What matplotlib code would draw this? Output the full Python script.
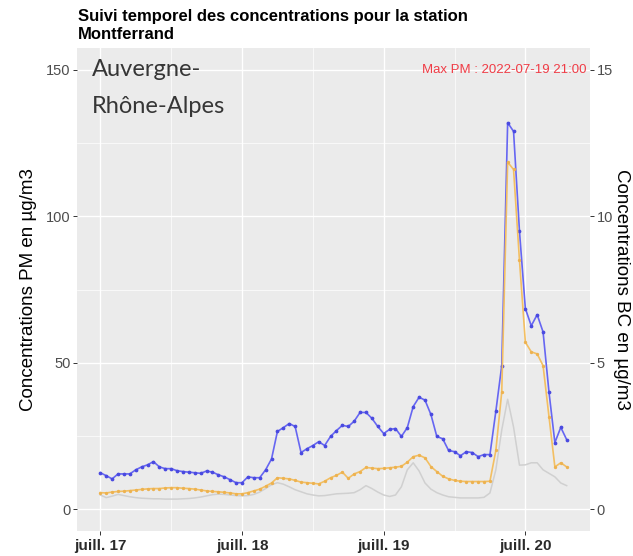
import matplotlib
matplotlib.use("Agg")
import matplotlib.pyplot as plt
import matplotlib.dates as mdates
from matplotlib.ticker import FixedLocator
import pandas as pd

# ---------------- data (hourly, from 2022-07-17 00:00) ----------------
start_time = "2022-07-17 00:00"

pm_blue = [12.4, 11.4, 10.3, 12.0, 12.0, 12.0, 13.4, 14.4, 15.1, 16.2,
           14.4, 13.8, 13.8, 13.1, 12.8, 12.6, 12.4, 12.2, 13.0, 12.6,
           11.7, 11.0, 10.0, 9.0, 9.0, 11.0, 10.7, 10.7, 13.4, 17.1,
           26.5, 27.8, 29.2, 28.2, 19.3, 20.6, 21.7, 23.0, 21.7, 24.8,
           26.8, 28.6, 28.2, 30.0, 33.0, 33.0, 31.0, 28.2, 25.8, 27.2,
           27.5, 24.8, 27.8, 35.0, 38.2, 37.2, 32.3, 24.8, 24.0, 20.0,
           19.6, 18.2, 19.6, 19.3, 17.9, 18.6, 18.6, 33.4, 49.0, 132.0,
           129.0, 95.0, 68.5, 62.6, 66.4, 60.5, 40.0, 22.7, 27.9, 23.7]

pm_orange = [5.6, 5.5, 5.8, 6.0, 6.1, 6.3, 6.5, 6.7, 6.9, 7.0,
             7.0, 7.2, 7.3, 7.3, 7.1, 7.0, 6.8, 6.5, 6.2, 6.0,
             5.9, 5.7, 5.5, 5.2, 5.2, 5.6, 6.2, 6.8, 7.8, 8.9,
             10.7, 10.5, 10.3, 9.8, 9.2, 9.0, 8.8, 8.6, 9.5, 10.7,
             11.5, 12.6, 10.5, 12.0, 12.8, 14.2, 14.0, 13.8, 13.9, 14.1,
             14.3, 14.6, 16.0, 17.9, 18.4, 17.5, 14.5, 12.8, 11.2, 10.3,
             9.8, 9.5, 9.4, 9.4, 9.4, 9.4, 9.5, 20.0, 40.0, 118.5,
             116.0, 85.0, 57.0, 53.7, 53.0, 49.0, 31.6, 14.4, 15.8, 14.4]

bc_grey = [4.8, 3.9, 4.4, 5.0, 4.6, 4.2, 3.9, 3.7, 3.6, 3.5,
           3.5, 3.4, 3.4, 3.4, 3.5, 3.6, 3.8, 4.1, 4.5, 4.9,
           5.1, 5.0, 4.8, 4.6, 4.5, 4.6, 5.0, 5.8, 7.0, 8.3,
           9.0, 8.5, 7.6, 6.6, 5.9, 5.2, 4.8, 4.5, 4.6, 4.9,
           5.2, 5.3, 5.4, 5.6, 6.6, 8.0, 7.0, 5.8, 4.8, 4.3,
           4.8, 7.6, 13.4, 15.8, 13.0, 8.9, 6.8, 5.6, 4.8, 4.2,
           4.0, 3.8, 3.8, 3.8, 3.8, 4.0, 5.5, 13.4, 27.0, 37.5,
           28.0, 15.0, 15.1, 15.8, 15.8, 13.4, 12.2, 11.0, 8.9, 8.0]

tick_dates = ["2022-07-17", "2022-07-18", "2022-07-19", "2022-07-20"]
tick_labels = ["juill. 17", "juill. 18", "juill. 19", "juill. 20"]
minor_dates = ["2022-07-17 12:00", "2022-07-18 12:00", "2022-07-19 12:00"]
pm_ticks = [0, 50, 100, 150]
pm_minor = [25, 75, 125]
bc_ticks = [0, 5, 10, 15]

title_lines = ["Suivi temporel des concentrations pour la station", "Montferrand"]
max_label = "Max PM : 2022-07-19 21:00"
logo_lines = ["Auvergne-", "Rhône-Alpes"]
ylabel_left = "Concentrations PM en µg/m3"
ylabel_right = "Concentrations BC en µg/m3"

# ---------------- figure ----------------
plt.rcParams["font.family"] = ["Liberation Sans", "DejaVu Sans"]

W, H = 633, 556
fig = plt.figure(figsize=(W / 100, H / 100), dpi=100)
fig.patch.set_facecolor("white")
ax = fig.add_axes([77 / W, 1 - 531 / H, 513 / W, 483 / H])
ax.set_facecolor("#EBEBEB")
for s in ax.spines.values():
    s.set_visible(False)

times = pd.date_range(start_time, periods=len(pm_blue), freq="h")
x = mdates.date2num(times.to_pydatetime())

ax.plot(x, bc_grey, color="#D0D0D0", lw=1.1, zorder=3)
ax.plot(x, pm_blue, color="#6666F2", lw=1.2, marker="o", ms=1.7,
        mfc="#4A4AE0", mec="#4A4AE0", zorder=4)
ax.plot(x, pm_orange, color="#F3BF62", lw=1.2, marker="o", ms=1.4,
        mfc="#EDB250", mec="#EDB250", zorder=5)

pad = 3.95 / 24.0
ax.set_xlim(x[0] - pad, x[-1] + pad)
ax.set_ylim(-7.5, 157.5)

major_x = mdates.date2num(pd.to_datetime(tick_dates).to_pydatetime())
minor_x = mdates.date2num(pd.to_datetime(minor_dates).to_pydatetime())
ax.xaxis.set_major_locator(FixedLocator(major_x))
ax.xaxis.set_minor_locator(FixedLocator(minor_x))
ax.set_xticklabels(tick_labels)
ax.yaxis.set_major_locator(FixedLocator(pm_ticks))
ax.yaxis.set_minor_locator(FixedLocator(pm_minor))

ax.grid(which="major", color="white", lw=1.0, zorder=0)
ax.grid(which="minor", color="white", lw=0.5, zorder=0)
ax.set_axisbelow(True)

ax.tick_params(axis="y", which="major", length=2.75, width=0.7, color="#333333",
               labelsize=10.5, labelcolor="#4D4D4D", pad=2)
ax.tick_params(axis="x", which="major", length=2.75, width=0.7, color="#333333",
               labelsize=11, labelcolor="#2A2A2A", pad=3)
for lab in ax.get_xticklabels():
    lab.set_fontweight("bold")
ax.tick_params(which="minor", length=0)

sec = ax.secondary_yaxis("right", functions=(lambda v: v / 10.0, lambda v: v * 10.0))
sec.set_yticks(bc_ticks)
sec.tick_params(length=2.75, width=0.7, color="#333333", labelsize=10.5,
                labelcolor="#4D4D4D", pad=2)
for s in sec.spines.values():
    s.set_visible(False)

ax.set_ylabel(ylabel_left, fontsize=13.5, color="black", labelpad=6)
sec.set_ylabel(ylabel_right, fontsize=13.5, color="black", rotation=-90,
               labelpad=0, va="bottom")

ax.text((586 - 77) / 513, 150, max_label, transform=ax.get_yaxis_transform(),
        ha="right", va="center", fontsize=9.5, color="#F03C46", zorder=6)

for txt, ypx in zip(logo_lines, [68, 105]):
    fig.text(92 / W, 1 - ypx / H, txt, ha="left", va="center_baseline",
             fontsize=17, color="#363636", family=["Lato", "DejaVu Sans"])

for txt, ypx in zip(title_lines, [15, 33]):
    fig.text(78 / W, 1 - ypx / H, txt, ha="left", va="center_baseline",
             fontsize=12, fontweight="bold", color="black")

fig.savefig("out.png", dpi=100)
